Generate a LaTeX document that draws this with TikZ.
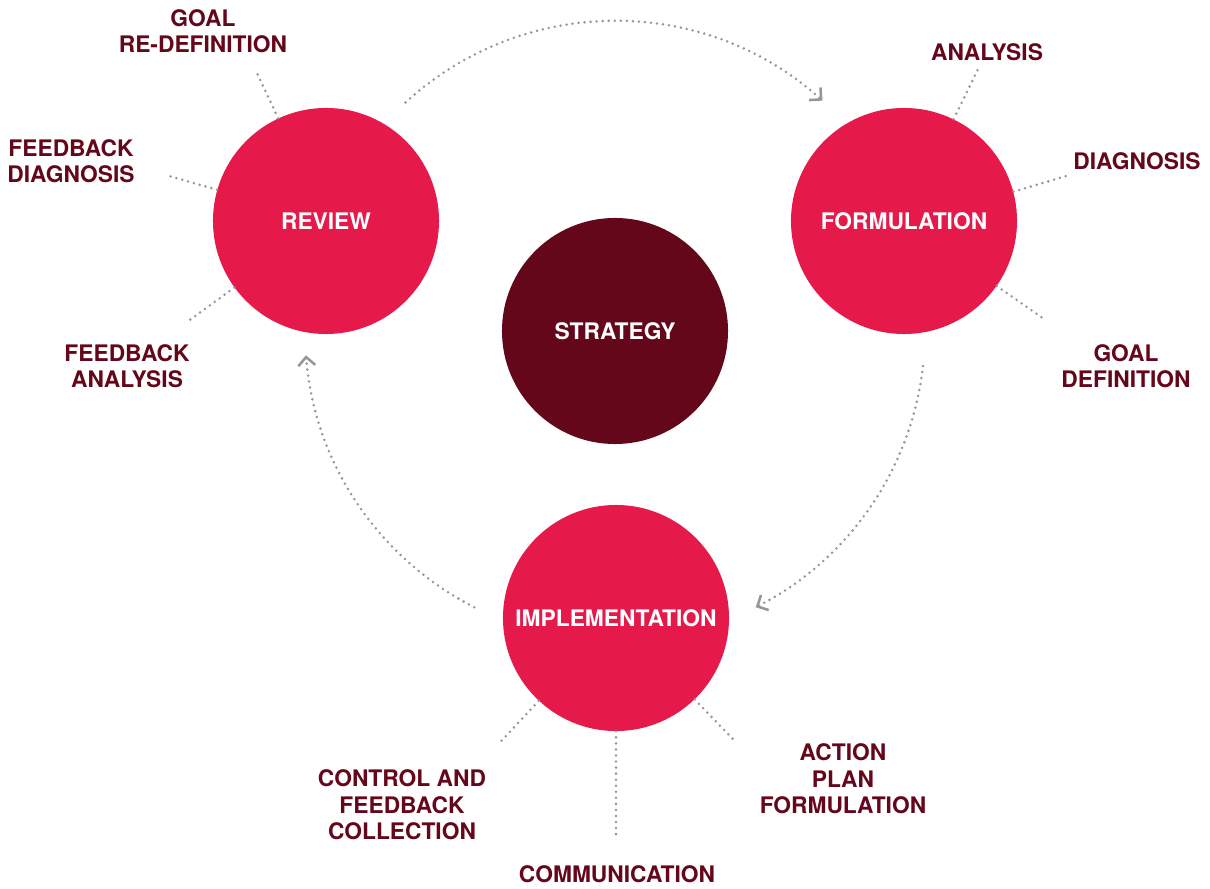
\documentclass[tikz,border=0pt]{standalone}
\usepackage{fontspec}
\setmainfont{TeX Gyre Heros}
\definecolor{stratred}{RGB}{229,26,75}
\definecolor{stratmaroon}{RGB}{101,7,26}
\definecolor{dotgray}{RGB}{150,150,150}
\usetikzlibrary{arrows.meta,calc}

\begin{document}
\begin{tikzpicture}[x=0.025cm, y=0.025cm,
    phase/.style={circle, fill=stratred, minimum size=5.65cm, inner sep=0pt,
                  text=white, font=\fontsize{16.2}{18.8}\selectfont\bfseries},
    core/.style={phase, fill=stratmaroon},
    sublabel/.style={align=center, text=stratmaroon, inner sep=0pt,
                     font=\fontsize{16.2}{18.8}\selectfont\bfseries},
    spoke/.style={draw=dotgray, line width=2pt, line cap=round, dash pattern=on 0pt off 4.3pt},
    flow/.style={spoke, -{Straight Barb[length=6pt, width=12pt, line width=1.8pt]}}]

    \useasboundingbox (0,0) rectangle (1210,888);

    % Circles
    \node[phase] (review) at (326,667) {REVIEW};
    \node[phase] (form) at (904,667) {FORMULATION};
    \node[core] (strat) at (615,557) {STRATEGY};
    \node[phase] (impl) at (616,270) {IMPLEMENTATION};

    % Labels
    \node[sublabel] (goalre) at (203,857) {GOAL\\RE-DEFINITION};
    \node[sublabel] (fbdiag) at (71,727) {FEEDBACK\\DIAGNOSIS};
    \node[sublabel] (fbana) at (127,522) {FEEDBACK\\ANALYSIS};
    \node[sublabel] (ana) at (987,836) {ANALYSIS};
    \node[sublabel] (diag) at (1137,727) {DIAGNOSIS};
    \node[sublabel] (goaldef) at (1126,522) {GOAL\\DEFINITION};
    \node[sublabel] (ctrl) at (402,83) {CONTROL AND\\FEEDBACK\\COLLECTION};
    \node[sublabel] (comm) at (617,14) {COMMUNICATION};
    \node[sublabel] (plan) at (843,109) {ACTION\\PLAN\\FORMULATION};

    % Spoke ends
    \coordinate (r1) at ($(review)+(115:166)$);
    \coordinate (r2) at ($(review)+(164:164)$);
    \coordinate (r3) at ($(review)+(216:168)$);
    \coordinate (f1) at ($(form)+(64:168)$);
    \coordinate (f2) at ($(form)+(15.5:169)$);
    \coordinate (f3) at ($(form)+(-35:172)$);
    \coordinate (i1) at ($(impl)+(227:170)$);
    \coordinate (i2) at ($(impl)+(270:218)$);
    \coordinate (i3) at ($(impl)+(-46:172)$);

    % Spokes
    \draw[spoke] (review.115) -- (r1);
    \draw[spoke] (review.164) -- (r2);
    \draw[spoke] (review.216) -- (r3);
    \draw[spoke] (form.64) -- (f1);
    \draw[spoke] (form.15.5) -- (f2);
    \draw[spoke] (form.-35) -- (f3);
    \draw[spoke] (impl.227) -- (i1);
    \draw[spoke] (impl.270) -- (i2);
    \draw[spoke] (impl.-46) -- (i3);

    % Cycle arrows
    \coordinate (a1) at ($(strat)+(132.5:310)$);
    \coordinate (a2) at ($(strat)+(-6.5:310)$);
    \coordinate (a3) at ($(strat)+(243:310)$);
    \draw[flow] (a1) arc[start angle=132.5, end angle=48, radius=310];
    \draw[flow] (a2) arc[start angle=-6.5, end angle=-63, radius=310];
    \draw[flow] (a3) arc[start angle=243, end angle=184.5, radius=310];
\end{tikzpicture}
\end{document}
